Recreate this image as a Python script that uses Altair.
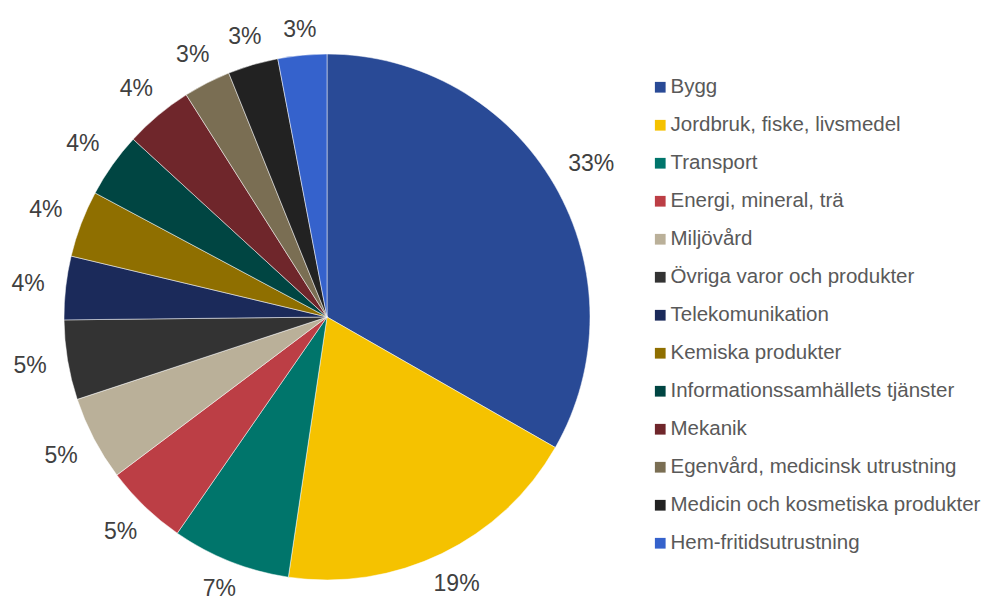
import altair as alt
import pandas as pd

categories = [
    "Bygg",
    "Jordbruk, fiske, livsmedel",
    "Transport",
    "Energi, mineral, trä",
    "Miljövård",
    "Övriga varor och produkter",
    "Telekomunikation",
    "Kemiska produkter",
    "Informationssamhällets tjänster",
    "Mekanik",
    "Egenvård, medicinsk utrustning",
    "Medicin och kosmetiska produkter",
    "Hem-fritidsutrustning",
]
shares = [33.3, 19.1, 7.3, 5.1, 5.2, 4.9, 3.9, 4.1, 4.0, 4.2, 2.9, 3.1, 3.0]
colors = [
    "#294A96", "#F5C200", "#00756B", "#BC3E45", "#BAB099", "#333333",
    "#1B2A5A", "#8F6F00", "#004542", "#6F262B", "#7A6E53", "#222222", "#3562CC",
]

df = pd.DataFrame({"cat": categories, "share": shares, "idx": list(range(len(categories)))})

CX, CY = 319, 309
R = 263
FS = 23

pie = alt.Chart(df).mark_arc(
    outerRadius=R, x=CX, y=CY, stroke="white", strokeWidth=0.5
).encode(
    theta=alt.Theta("share:Q", stack=True),
    order=alt.Order("idx:Q"),
    color=alt.Color(
        "cat:N",
        scale=alt.Scale(domain=categories, range=colors),
        sort=categories,
        legend=alt.Legend(
            title=None,
            orient="none",
            legendX=642,
            legendY=69,
            symbolType="square",
            symbolSize=115,
            symbolStrokeWidth=0,
            labelFontSize=20.5,
            labelFont="Liberation Sans",
            labelColor="#595959",
            labelOffset=0,
            rowPadding=17,
            padding=0,
            labelLimit=400,
        ),
    ),
)

labels = (
    alt.Chart(df)
    .transform_window(cum="sum(share)", sort=[alt.SortField("idx")])
    .transform_joinaggregate(total="sum(share)")
    .transform_calculate(
        label="format(round(datum.share), 'd') + '%'",
        mid="(datum.cum - datum.share / 2) / datum.total * 2 * PI",
    )
    .transform_calculate(
        w=f"((length(datum.label) - 1) * 0.556 + 0.889) * {FS}",
    )
    .transform_calculate(
        r=f"{R} + 21 + abs(sin(datum.mid)) * datum.w / 2 + abs(cos(datum.mid)) * 3",
    )
    .mark_text(
        x=CX, y=CY, fontSize=FS, font="Liberation Sans", color="#404040",
        align="center", baseline="middle",
    )
    .encode(
        text="label:N",
        theta=alt.Theta("mid:Q", scale=None, stack=None),
        radius=alt.Radius("r:Q", scale=None, stack=None),
    )
)

chart = alt.layer(pie, labels).resolve_scale(theta="independent").properties(
    width=978, height=589, autosize=alt.AutoSizeParams(type="none"), padding=0
).configure_view(stroke=None)

chart.save("out.html", embed_options={"renderer": "svg", "actions": False})
